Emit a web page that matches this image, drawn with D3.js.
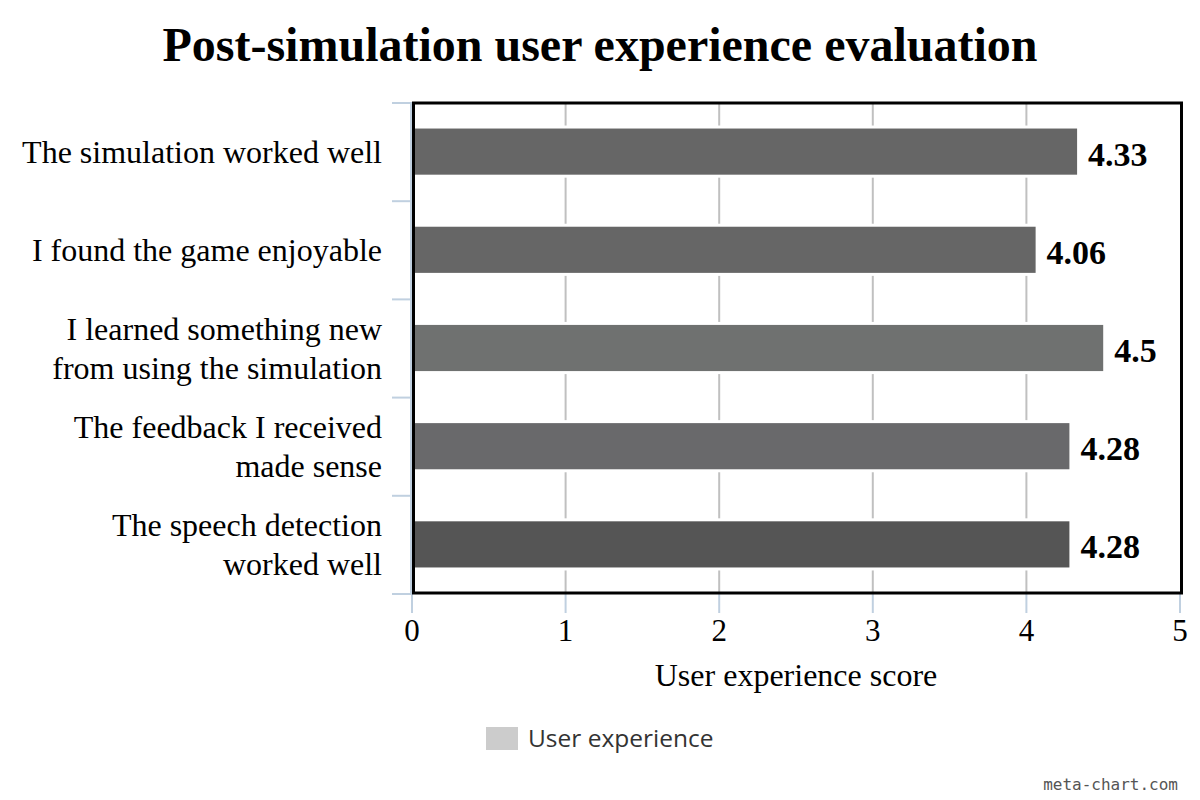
<!DOCTYPE html>
<html>
<head>
<meta charset="utf-8">
<script src="https://cdn.jsdelivr.net/npm/d3@7"></script>
<style>
  body { margin: 0; background: #fff; }
  svg { display: block; }
</style>
</head>
<body>
<div id="chart"></div>
<script>
var categories = [
  ["The simulation worked well"],
  ["I found the game enjoyable"],
  ["I learned something new", "from using the simulation"],
  ["The feedback I received", "made sense"],
  ["The speech detection", "worked well"]
];
var scores = [4.33, 4.06, 4.5, 4.28, 4.28];
var xTicks = [0, 1, 2, 3, 4, 5];
var barColors = ["#666666", "#666666", "#6f7170", "#69696b", "#555555"];

var width = 1200, height = 800;
var x0 = 412, x1 = 1180, y0 = 103, y1 = 593;
var serif = "'Liberation Serif', 'Times New Roman', serif";

var svg = d3.select("#chart").append("svg")
    .attr("width", width)
    .attr("height", height);

var x = d3.scaleLinear().domain([0, 5]).range([x0, x1]);
var y = d3.scaleBand()
    .domain(d3.range(categories.length))
    .range([y0, y1])
    .paddingInner(0.53)
    .paddingOuter(0.26);

// title
svg.append("text")
    .attr("x", width / 2)
    .attr("y", 61)
    .attr("text-anchor", "middle")
    .style("font-family", serif)
    .style("font-weight", "bold")
    .style("font-size", "48px")
    .text("Post-simulation user experience evaluation");

// gridlines
svg.append("g").selectAll("line")
    .data(xTicks.slice(1, -1))
  .enter().append("line")
    .attr("x1", function(d) { return x(d); })
    .attr("x2", function(d) { return x(d); })
    .attr("y1", y0)
    .attr("y2", y1)
    .attr("stroke", "#c0c0c0")
    .attr("stroke-width", 2);

// bars (white halo first so gridlines break around them)
var bars = svg.append("g").selectAll("g")
    .data(scores)
  .enter().append("g");

bars.append("rect")
    .attr("x", x(0))
    .attr("y", function(d, i) { return y(i) - 3; })
    .attr("width", function(d) { return x(d) - x(0) + 3; })
    .attr("height", y.bandwidth() + 6)
    .attr("fill", "#fff");

bars.append("rect")
    .attr("x", x(0))
    .attr("y", function(d, i) { return y(i); })
    .attr("width", function(d) { return x(d) - x(0); })
    .attr("height", y.bandwidth())
    .attr("fill", function(d, i) { return barColors[i]; });

bars.append("text")
    .attr("x", function(d) { return x(d) + 11; })
    .attr("y", function(d, i) { return y(i) + y.bandwidth() / 2 + 2; })
    .attr("dy", "0.35em")
    .style("font-family", serif)
    .style("font-weight", "bold")
    .style("font-size", "34px")
    .text(function(d) { return d; });

// category axis ticks
var yTickPos = d3.range(categories.length + 1).map(function(i) { return y0 + i * y.step(); });
svg.append("g").selectAll("line")
    .data(yTickPos)
  .enter().append("line")
    .attr("x1", x0 - 20)
    .attr("x2", x0)
    .attr("y1", function(d) { return d; })
    .attr("y2", function(d) { return d; })
    .attr("stroke", "#c0d0e0")
    .attr("stroke-width", 2);

svg.append("line")
    .attr("x1", x0 - 1).attr("x2", x0 - 1)
    .attr("y1", y0).attr("y2", y1)
    .attr("stroke", "#c0d0e0")
    .attr("stroke-width", 2);

// category labels
var labels = svg.append("g").selectAll("text")
    .data(categories)
  .enter().append("text")
    .attr("text-anchor", "end")
    .style("font-family", serif)
    .style("font-size", "32px")
    .attr("transform", function(d, i) {
      return "translate(382," + (y(i) + y.bandwidth() / 2) + ")";
    });

labels.selectAll("tspan")
    .data(function(d) { return d; })
  .enter().append("tspan")
    .attr("x", 0)
    .attr("y", function(d, j, nodes) { return (j - (nodes.length - 1) / 2) * 39; })
    .attr("dy", "0.35em")
    .text(function(d) { return d; });

// x axis ticks and labels
var xAxis = svg.append("g");
xAxis.selectAll("line")
    .data(xTicks)
  .enter().append("line")
    .attr("x1", function(d) { return x(d); })
    .attr("x2", function(d) { return x(d); })
    .attr("y1", y1)
    .attr("y2", y1 + 20)
    .attr("stroke", "#c0d0e0")
    .attr("stroke-width", 2);

xAxis.selectAll("text")
    .data(xTicks)
  .enter().append("text")
    .attr("x", function(d) { return x(d); })
    .attr("y", 641)
    .attr("text-anchor", "middle")
    .style("font-family", serif)
    .style("font-size", "31px")
    .text(function(d) { return d; });

svg.append("text")
    .attr("x", (x0 + x1) / 2)
    .attr("y", 686)
    .attr("text-anchor", "middle")
    .style("font-family", serif)
    .style("font-size", "32px")
    .text("User experience score");

// plot border
svg.append("rect")
    .attr("x", x0 + 1.5)
    .attr("y", y0)
    .attr("width", x1 - x0)
    .attr("height", y1 - y0)
    .attr("fill", "none")
    .attr("stroke", "#000")
    .attr("stroke-width", 3);

// legend
svg.append("rect")
    .attr("x", 486).attr("y", 727)
    .attr("width", 32).attr("height", 23)
    .attr("fill", "#cccccc");
svg.append("text")
    .attr("x", 528).attr("y", 747)
    .style("font-family", "'Open Sans', sans-serif")
    .style("font-size", "24.5px")
    .attr("fill", "#333")
    .text("User experience");

// watermark
svg.append("text")
    .attr("x", 1178).attr("y", 790)
    .attr("text-anchor", "end")
    .style("font-family", "'DejaVu Sans Mono', monospace")
    .style("font-size", "16px")
    .attr("fill", "#555")
    .text("meta-chart.com");
</script>
</body>
</html>
